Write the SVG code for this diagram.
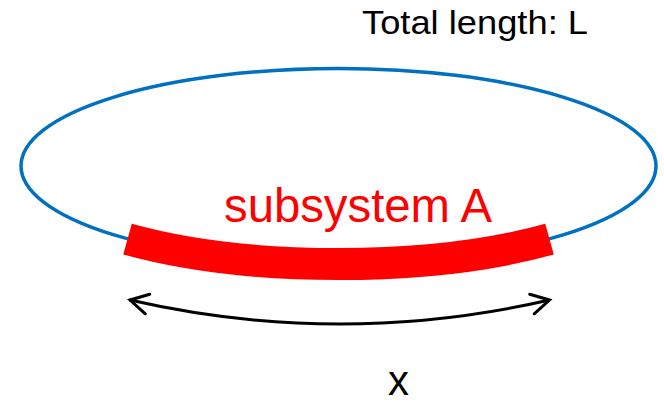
<svg xmlns="http://www.w3.org/2000/svg" width="664" height="404" viewBox="0 0 664 404">
  <style>
    .lbl { font-family: "Liberation Sans", Arial, sans-serif; }
  </style>
  <defs>
    <marker id="chev" markerUnits="userSpaceOnUse" viewBox="-22 -14 26 28" refX="0" refY="0" markerWidth="26" markerHeight="28" orient="auto-start-reverse" overflow="visible">
      <path d="M-18,-10 L0,0 L-18,10" fill="none" stroke="#000" stroke-width="3" stroke-linejoin="miter" stroke-linecap="round"/>
    </marker>
  </defs>
  <rect width="664" height="404" fill="#fff"/>
  <g id="ring">
    <ellipse cx="338.5" cy="166" rx="317.5" ry="97.5" fill="none" stroke="#0070C0" stroke-width="3.5"/>
  </g>
  <g id="subsystemA">
    <path d="M127.5,239.2 A317.5,98.5 0 0,0 549.5,239.2" fill="none" stroke="#FF0000" stroke-width="32"/>
    <text class="lbl" x="224" y="222" font-size="48" fill="#FF0000" textLength="268" lengthAdjust="spacingAndGlyphs">subsystem A</text>
  </g>
  <g id="title">
    <text class="lbl" x="362" y="34" font-size="33" fill="#000" textLength="226" lengthAdjust="spacingAndGlyphs">Total length: L</text>
  </g>
  <g id="connectors">
    <path d="M130,300 Q339.5,348 549.5,300" fill="none" stroke="#000" stroke-width="3" marker-start="url(#chev)" marker-end="url(#chev)"/>
  </g>
  <g id="xlabel">
    <text class="lbl" x="388" y="395" font-size="42" fill="#000">x</text>
  </g>
</svg>
